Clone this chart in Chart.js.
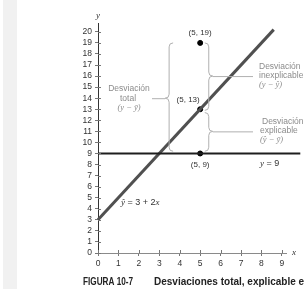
<!DOCTYPE html>
<html>
<head>
<meta charset="utf-8">
<script src="https://cdn.jsdelivr.net/npm/chart.js@4.4.0/dist/chart.umd.min.js"></script>
<style>
  body { margin: 0; background: #fff; }
  #wrap { width: 304px; height: 289px; }
</style>
</head>
<body>
<div id="wrap"><canvas id="chart1" width="304" height="289"></canvas></div>
<script>
// values
const xTicks = [0, 1, 2, 3, 4, 5, 6, 7, 8, 9];
const yTicks = [0, 1, 2, 3, 4, 5, 6, 7, 8, 9, 10, 11, 12, 13, 14, 15, 16, 17, 18, 19, 20];
const lineX = [0, 8.6];       // regression line y^ = 3 + 2x
const lineY = [3, 20.2];
const meanX = [0, 9.9];       // y = 9
const meanY = [9, 9];
const pointX = [5, 5, 5];
const pointY = [19, 13, 9];
const pointLabels = ['(5, 19)', '(5, 13)', '(5, 9)'];

const sans = '"Liberation Sans", Arial, sans-serif';
const serif = '"Liberation Serif", "DejaVu Serif", serif';
const grayText = '#8c8c8c';

function toXY(xs, ys) {
  return xs.map((x, i) => ({ x, y: ys[i] }));
}

// draws a row of text pieces with different fonts
function runs(ctx, parts, x, y, align) {
  let w = 0;
  parts.forEach(p => { ctx.font = p[1]; w += ctx.measureText(p[0]).width; });
  let cx = x;
  if (align === 'center') cx = x - w / 2;
  if (align === 'right') cx = x - w;
  parts.forEach(p => {
    ctx.font = p[1];
    ctx.fillText(p[0], cx, y);
    cx += ctx.measureText(p[0]).width;
  });
}

// curly brace, dir = -1 tip to the left, 1 tip to the right
function brace(ctx, x, top, bottom, tip, dir) {
  const w = 4;
  ctx.beginPath();
  ctx.moveTo(x - dir * w, top);
  ctx.quadraticCurveTo(x, top, x, top + w);
  ctx.lineTo(x, tip - w);
  ctx.quadraticCurveTo(x, tip, x + dir * w, tip);
  ctx.quadraticCurveTo(x, tip, x, tip + w);
  ctx.lineTo(x, bottom - w);
  ctx.quadraticCurveTo(x, bottom, x - dir * w, bottom);
  ctx.stroke();
}

const extras = {
  id: 'extras',
  beforeDraw(chart) {
    const ctx = chart.ctx;
    ctx.save();
    ctx.fillStyle = '#f1f1f1';
    ctx.fillRect(3, 0, 14, chart.height);
    ctx.restore();
  },
  afterDatasetsDraw(chart) {
    const ctx = chart.ctx;
    const xs = chart.scales.x;
    const ys = chart.scales.y;
    const px = v => xs.getPixelForValue(v);
    const py = v => ys.getPixelForValue(v);
    ctx.save();

    // inner half of the ticks (they cross the axes)
    ctx.strokeStyle = '#777';
    ctx.lineWidth = 1;
    ctx.beginPath();
    yTicks.forEach(v => {
      const y = Math.round(py(v)) + 0.5;
      ctx.moveTo(xs.left, y);
      ctx.lineTo(xs.left + 3, y);
    });
    xTicks.forEach(v => {
      const x = Math.round(px(v)) + 0.5;
      ctx.moveTo(x, ys.bottom);
      ctx.lineTo(x, ys.bottom - 3);
    });
    ctx.stroke();

    // axis names
    ctx.fillStyle = '#333';
    ctx.textBaseline = 'middle';
    ctx.font = 'italic 9px ' + serif;
    ctx.textAlign = 'center';
    ctx.fillText('y', xs.left, 16);
    ctx.fillText('x', xs.right + 8, ys.bottom);

    // braces and connectors
    ctx.strokeStyle = '#b0b0b0';
    ctx.lineWidth = 1;
    const bl = px(3.48), br = px(5.42);
    brace(ctx, bl, py(19), py(9.2), py(14), -1);
    brace(ctx, br, py(19), py(12.9), py(16), 1);
    brace(ctx, br, py(12.7), py(9.2), py(11), 1);
    ctx.beginPath();
    ctx.moveTo(bl - 4, py(14) + 0.5); ctx.lineTo(152, py(14) + 0.5);
    ctx.moveTo(br + 4, py(16) + 0.5); ctx.lineTo(253, py(16) + 0.5);
    ctx.moveTo(br + 4, py(11) + 0.5); ctx.lineTo(253, py(11) + 0.5);
    ctx.stroke();

    // deviation labels
    const f = '8.5px ' + sans;
    const fi = 'italic 8.5px ' + serif;
    ctx.fillStyle = grayText;
    ctx.textAlign = 'left';
    runs(ctx, [['Desviación', f]], 129, 89, 'center');
    runs(ctx, [['total', f]], 128, 99, 'center');
    runs(ctx, [['(y − ȳ)', fi]], 129, 108, 'center');

    runs(ctx, [['Desviación', f]], 259, 67, 'left');
    runs(ctx, [['inexplicable', f]], 259, 76, 'left');
    runs(ctx, [['(y − ŷ)', fi]], 259, 85, 'left');

    runs(ctx, [['Desviación', f]], 262, 122, 'left');
    runs(ctx, [['explicable', f]], 260, 131, 'left');
    runs(ctx, [['(ŷ − ȳ)', fi]], 260, 140, 'left');

    // point labels
    ctx.fillStyle = '#333';
    const pf = '8px ' + sans;
    const off = [[0, -10], [-12, -9], [0, 11]];
    pointLabels.forEach((t, i) => {
      runs(ctx, [[t, pf]], px(pointX[i]) + off[i][0], py(pointY[i]) + off[i][1], 'center');
    });

    // equations
    const ef = '9px ' + sans;
    const ei = 'italic 9px ' + serif;
    runs(ctx, [['ŷ', ei], [' = 3 + 2', ef], ['x', ei]], 121, 203, 'left');
    runs(ctx, [['y', ei], [' = 9', ef]], 260, 164, 'left');

    // caption
    ctx.fillStyle = '#222';
    ctx.font = 'bold 10px ' + sans;
    ctx.fillText('FIGURA 10-7', 83, 282, 50);
    ctx.fillText('Desviaciones total, explicable e inexplicable', 154, 282, 255);

    ctx.restore();
  }
};

const ctx = document.getElementById('chart1').getContext('2d');
const chart1 = new Chart(ctx, {
  type: 'scatter',
  data: {
    datasets: [
      {
        type: 'line',
        data: toXY(meanX, meanY),
        borderColor: '#1e1e1e',
        borderWidth: 2,
        pointRadius: 0,
        clip: false,
      },
      {
        type: 'line',
        data: toXY(lineX, lineY),
        borderColor: '#505050',
        borderWidth: 3,
        pointRadius: 0,
        clip: false,
      },
      {
        data: toXY(pointX, pointY),
        backgroundColor: '#000',
        borderColor: '#000',
        pointRadius: 2.5,
      },
    ],
  },
  options: {
    responsive: false,
    animation: false,
    layout: { padding: { top: 23, right: 18, left: 0, bottom: 0 } },
    plugins: {
      legend: { display: false },
      tooltip: { enabled: false },
    },
    scales: {
      x: {
        type: 'linear',
        min: 0,
        max: 9.2,
        afterFit: scale => { scale.height = 36; },
        afterBuildTicks: scale => { scale.ticks = xTicks.map(v => ({ value: v })); },
        grid: { drawOnChartArea: false, drawTicks: true, tickLength: 3, color: '#777' },
        border: { color: '#8a8a8a', width: 1 },
        ticks: { font: { family: sans, size: 8.5 }, color: '#333', padding: 3, maxRotation: 0, autoSkip: false },
      },
      y: {
        type: 'linear',
        min: 0,
        max: 20.8,
        afterFit: scale => { scale.width = 98; },
        afterBuildTicks: scale => { scale.ticks = yTicks.map(v => ({ value: v })); },
        grid: { drawOnChartArea: false, drawTicks: true, tickLength: 3, color: '#777' },
        border: { color: '#333', width: 1 },
        ticks: { font: { family: sans, size: 8.5 }, color: '#333', padding: 3, autoSkip: false },
      },
    },
  },
  plugins: [extras],
});
</script>
</body>
</html>
